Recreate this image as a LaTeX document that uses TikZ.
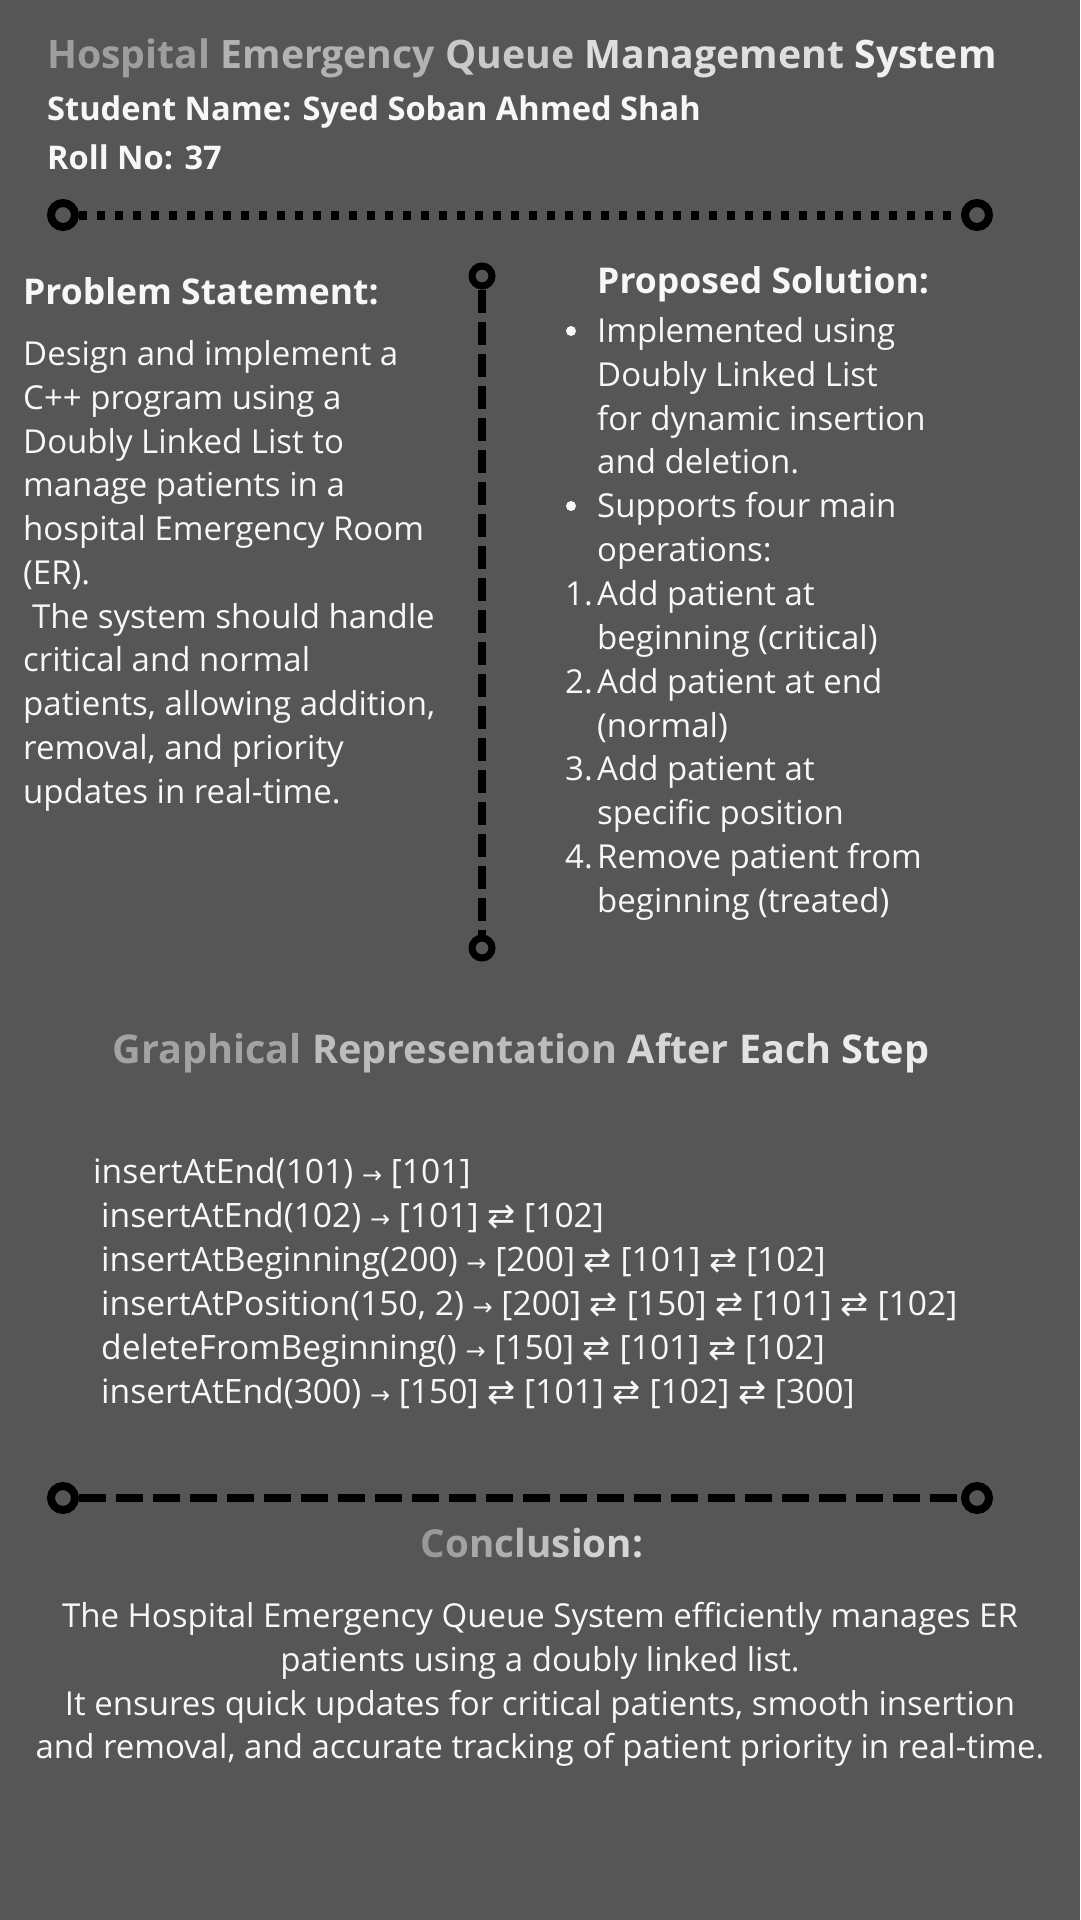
\documentclass[tikz,border=0pt]{standalone}
\usepackage{fontspec}
\usepackage{tikz}
\setmainfont{Open Sans}
\newfontfamily\arrowfont{DejaVu Sans}
\definecolor{bg}{HTML}{565656}
\definecolor{ink}{HTML}{F7F7F7}
\newcommand{\ra}{{\arrowfont\fontsize{24}{24}\selectfont →}}
\newcommand{\lr}{{\arrowfont ⇄}}
\newcommand{\shade}[2]{\textcolor{white!#1!black}{#2}}
\tikzset{
  body/.style={anchor=base west, inner sep=0pt, text=ink, font=\fontsize{33}{44}\selectfont},
  code/.style={body, font=\fontsize{33.6}{44}\selectfont},
  head/.style={body, font=\bfseries\fontsize{35.5}{44}\selectfont},
  dot/.style={circle, fill=ink, minimum size=10pt, inner sep=0pt},
  ring/.style={circle, draw=black, line width=8pt, minimum size=24pt, inner sep=0pt},
  smallring/.style={ring, line width=7pt, minimum size=20pt},
  dotline/.style={black, line width=9pt, dash pattern=on 8pt off 10pt},
  dashline/.style={black, line width=8pt, dash pattern=on 27pt off 10pt},
  vline/.style={black, line width=8pt, dash pattern=on 23pt off 9pt}
}
\begin{document}
\begin{tikzpicture}[x=1pt,y=-1pt]
\fill[bg] (0,0) rectangle (1080,1920);

% header
\node[head, font=\bfseries\fontsize{39.2}{44}\selectfont] (title) at (47,68) {\shade{62}{Hospital} \shade{70}{Emergency} \shade{79}{Queue} \shade{87}{Management} \shade{94}{System}};
\node[head, font=\bfseries\fontsize{32.6}{40}\selectfont] (student) at (47,120) {Student Name: Syed Soban Ahmed Shah};
\node[head, font=\bfseries\fontsize{32.6}{40}\selectfont] (roll) at (47,169) {Roll No: 37};

\node[ring] (topL) at (63,215) {};
\node[ring] (topR) at (977,215) {};
\draw[dotline] (topL) -- (topR);

% divider between the columns
\node[smallring] (midT) at (482,276) {};
\node[smallring] (midB) at (482,948) {};
\draw[vline] (midT) -- (midB);

% problem statement
\node[head] (probhead) at (23,304) {Problem Statement:};
\node[body] (p1) at (23,365) {Design and implement a};
\node[body] (p2) at (23,409) {C++ program using a};
\node[body] (p3) at (23,453) {Doubly Linked List to};
\node[body] (p4) at (23,496) {manage patients in a};
\node[body] (p5) at (23,540) {hospital Emergency Room};
\node[body] (p6) at (23,584) {(ER).};
\node[body] (p7) at (23,628) {\hspace{9pt}The system should handle};
\node[body] (p8) at (23,671) {critical and normal};
\node[body] (p9) at (23,715) {patients, allowing addition,};
\node[body] (p10) at (23,759) {removal, and priority};
\node[body] (p11) at (23,803) {updates in real-time.};

% proposed solution
\node[head] (solhead) at (597,293) {Proposed Solution:};
\node[dot] (m1) at (571,331) {};
\node[body] (s1) at (597,342) {Implemented using};
\node[body] (s2) at (597,386) {Doubly Linked List};
\node[body] (s3) at (597,430) {for dynamic insertion};
\node[body] (s4) at (597,473) {and deletion.};
\node[dot] (m2) at (571,506) {};
\node[body] (s5) at (597,517) {Supports four main};
\node[body] (s6) at (597,561) {operations:};
\node[body] (m3) at (565,605) {1.};
\node[body] (s7) at (597,605) {Add patient at};
\node[body] (s8) at (597,649) {beginning (critical)};
\node[body] (m4) at (565,693) {2.};
\node[body] (s9) at (597,693) {Add patient at end};
\node[body] (s10) at (597,737) {(normal)};
\node[body] (m5) at (565,780) {3.};
\node[body] (s11) at (597,780) {Add patient at};
\node[body] (s12) at (597,824) {specific position};
\node[body] (m6) at (565,868) {4.};
\node[body] (s13) at (597,868) {Remove patient from};
\node[body] (s14) at (597,912) {beginning (treated)};

% steps
\node[head, anchor=base, font=\bfseries\fontsize{39.6}{44}\selectfont] (graphhead) at (521,1063) {\shade{64}{Graphical} \shade{74}{Representation} \shade{84}{After} \shade{89}{Each} \shade{93}{Step}};
\node[code] (c1) at (93,1183) {insertAtEnd(101) \ra{} [101]};
\node[code] (c2) at (101,1227) {insertAtEnd(102) \ra{} [101] \lr{} [102]};
\node[code] (c3) at (101,1271) {insertAtBeginning(200) \ra{} [200] \lr{} [101] \lr{} [102]};
\node[code] (c4) at (101,1315) {insertAtPosition(150, 2) \ra{} [200] \lr{} [150] \lr{} [101] \lr{} [102]};
\node[code] (c5) at (101,1359) {deleteFromBeginning() \ra{} [150] \lr{} [101] \lr{} [102]};
\node[code] (c6) at (101,1403) {insertAtEnd(300) \ra{} [150] \lr{} [101] \lr{} [102] \lr{} [300]};

\node[ring] (botL) at (63,1498) {};
\node[ring] (botR) at (977,1498) {};
\draw[dashline] (botL) -- (botR);

% conclusion
\node[head, anchor=base, font=\bfseries\fontsize{38.6}{44}\selectfont] (conchead) at (532,1557) {\shade{60}{C}\shade{63}{o}\shade{66}{n}\shade{69}{c}\shade{72}{l}\shade{75}{u}\shade{78}{s}\shade{80}{i}\shade{82}{o}\shade{84}{n}\shade{86}{:}};
\node[body, anchor=base] (k1) at (540,1627) {The Hospital Emergency Queue System efficiently manages ER};
\node[body, anchor=base] (k2) at (540,1671) {patients using a doubly linked list.};
\node[body, anchor=base] (k3) at (540,1715) {It ensures quick updates for critical patients, smooth insertion};
\node[body, anchor=base] (k4) at (540,1758) {and removal, and accurate tracking of patient priority in real-time.};
\end{tikzpicture}
\end{document}
